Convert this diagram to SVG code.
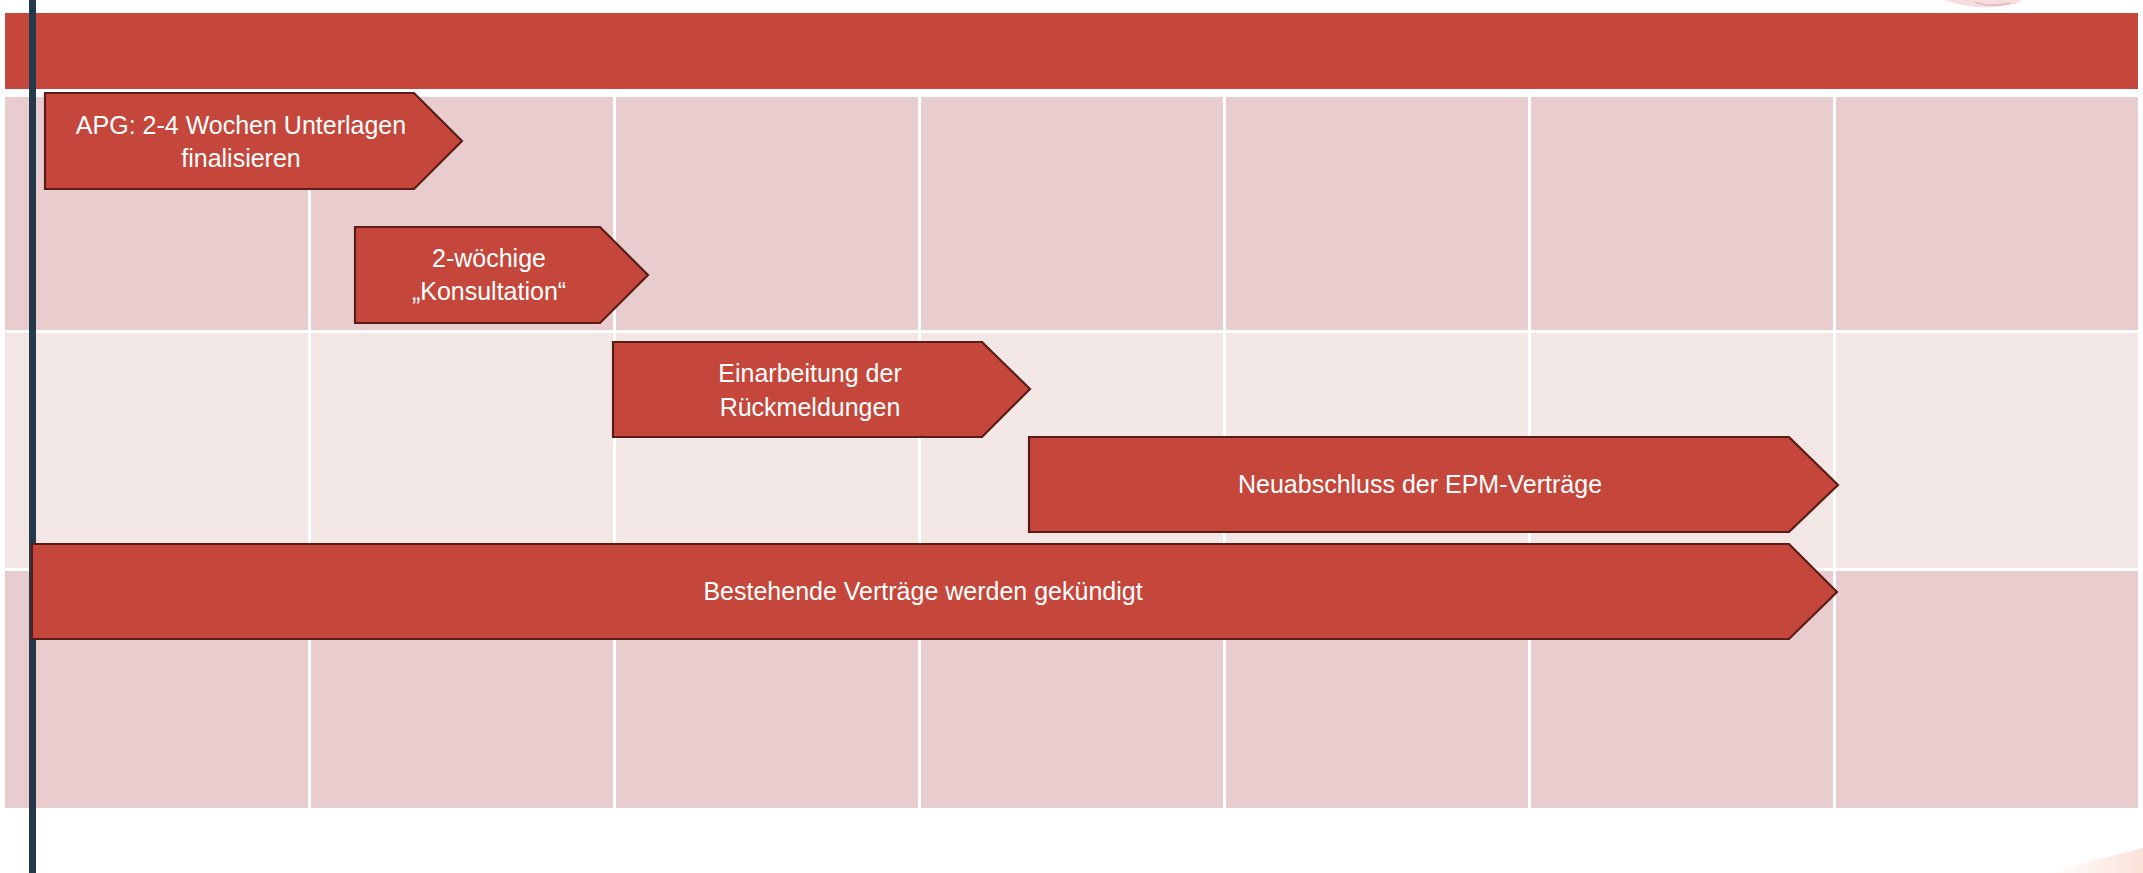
<svg xmlns="http://www.w3.org/2000/svg" width="2143" height="873" viewBox="0 0 2143 873">
  <style>
    .row-dark { fill: #E9CDCE; }
    .row-light { fill: #F3E7E6; }
    .gap { stroke: #FFFFFF; stroke-width: 3; }
    .header { fill: #C5473B; }
    .arrow { fill: #C5473B; stroke: #5A1C17; stroke-width: 2.2; stroke-linejoin: miter; }
    .label { fill: #FFFFFF; font-family: "Liberation Sans", Arial, sans-serif; font-size: 25px; text-anchor: middle; }
    .timeline { fill: #243A4A; }
  </style>
  <defs>
    <linearGradient id="fadeBR" x1="0" y1="0" x2="1" y2="0">
      <stop offset="0" stop-color="#FBE3DC" stop-opacity="0"/>
      <stop offset="1" stop-color="#FBE1D9" stop-opacity="1"/>
    </linearGradient>
  </defs>
  <rect x="0" y="0" width="2143" height="873" fill="#FFFFFF"/>

  <!-- faint background decorations -->
  <g id="decor">
    <path d="M1945,0 Q1975,12 2015,4 L2022,0 Z" fill="#F2D5D6" opacity="0.8"/>
    <path d="M1975,2 Q1990,8 2010,3" fill="none" stroke="#E2A8AA" stroke-width="1.5" opacity="0.7"/>
    <path d="M2045,873 L2143,848 L2143,873 Z" fill="url(#fadeBR)"/>
  </g>

  <!-- grid -->
  <g id="grid">
    <rect class="row-dark" x="5" y="97" width="2133" height="233"/>
    <rect class="row-light" x="5" y="333" width="2133" height="235"/>
    <rect class="row-dark" x="5" y="571" width="2133" height="237"/>
    <line class="gap" x1="309.5" y1="97" x2="309.5" y2="808"/>
    <line class="gap" x1="614.5" y1="97" x2="614.5" y2="808"/>
    <line class="gap" x1="919.5" y1="97" x2="919.5" y2="808"/>
    <line class="gap" x1="1224.5" y1="97" x2="1224.5" y2="808"/>
    <line class="gap" x1="1529.5" y1="97" x2="1529.5" y2="808"/>
    <line class="gap" x1="1834.5" y1="97" x2="1834.5" y2="808"/>
  </g>

  <g id="header">
    <rect class="header" x="5" y="13" width="2133" height="76"/>
  </g>

  <g id="timeline">
    <rect class="timeline" x="29" y="0" width="7" height="873"/>
  </g>

  <g id="connectors"></g>

  <g id="node-apg">
    <path class="arrow" d="M45,93 L414,93 L462,141 L414,189 L45,189 Z"/>
    <text class="label" x="241" y="134">APG: 2-4 Wochen Unterlagen</text>
    <text class="label" x="241" y="167">finalisieren</text>
  </g>

  <g id="node-konsultation">
    <path class="arrow" d="M355,227 L600,227 L648,275 L600,323 L355,323 Z"/>
    <text class="label" x="489" y="267">2-wöchige</text>
    <text class="label" x="489" y="300">„Konsultation“</text>
  </g>

  <g id="node-einarbeitung">
    <path class="arrow" d="M613,342 L982,342 L1030,389 L982,437 L613,437 Z"/>
    <text class="label" x="810" y="382">Einarbeitung der</text>
    <text class="label" x="810" y="416">Rückmeldungen</text>
  </g>

  <g id="node-neuabschluss">
    <path class="arrow" d="M1029,437 L1789,437 L1838,485 L1789,532 L1029,532 Z"/>
    <text class="label" x="1420" y="493">Neuabschluss der EPM-Verträge</text>
  </g>

  <g id="node-bestehende">
    <path class="arrow" d="M32,544 L1789,544 L1837,592 L1789,639 L32,639 Z"/>
    <text class="label" x="923" y="600">Bestehende Verträge werden gekündigt</text>
  </g>
</svg>
